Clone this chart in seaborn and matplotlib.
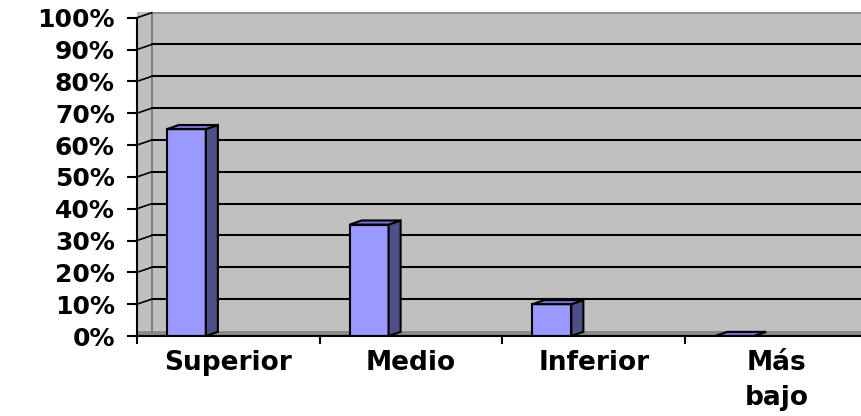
import matplotlib
matplotlib.use("Agg")
import matplotlib.pyplot as plt
from matplotlib.patches import Polygon, Rectangle
import seaborn as sns
import pandas as pd

categories = ["Superior", "Medio", "Inferior", "Más\nbajo"]
values = [65, 35, 10, 0]
yticks = list(range(0, 101, 10))

df = pd.DataFrame({"nivel": categories, "pct": values})

sns.set_style("white")
plt.rcParams["font.family"] = ["DejaVu Sans"]
plt.rcParams["xtick.color"] = "black"
plt.rcParams["ytick.color"] = "black"
plt.rcParams["text.color"] = "black"

fig = plt.figure(figsize=(8.62, 4.16), dpi=100)
ax = fig.add_axes([137 / 862, 80 / 416, 731 / 862, 324 / 416])
ax.set_facecolor("#c0c0c0")

front, side, top = "#9999ff", "#4f4f88", "#7373cc"
dx, dy = 0.066, 1.3          # depth of the fake 3D effect (data units)
wall_x, wall_dy = -0.418, 1.6

sns.barplot(data=df, x="nivel", y="pct", color=front, width=0.213,
            saturation=1, edgecolor="black", linewidth=1.5, ax=ax, zorder=3)

# shift bars to the left inside their slot and add the side / top faces
for p in ax.patches:
    p.set_x(p.get_x() - 0.23)
    x, w, h = p.get_x(), p.get_width(), p.get_height()
    ax.add_patch(Polygon([(x + w, 0), (x + w + dx, dy), (x + w + dx, h + dy), (x + w, h)],
                         closed=True, fc=side, ec="black", lw=1.5, zorder=3))
    ax.add_patch(Polygon([(x, h), (x + dx, h + dy), (x + w + dx, h + dy), (x + w, h)],
                         closed=True, fc=top, ec="black", lw=1.5, zorder=3))

# floor and back wall
ax.add_patch(Rectangle((-0.5, 0), 4.1, 1.5, fc="#8a8a8a", ec="none", zorder=1))
ax.plot([wall_x, wall_x], [1.5, 101.8], color="#808080", lw=1.5, zorder=1)
for v in yticks[1:]:
    ax.plot([wall_x, 3.6], [v + wall_dy, v + wall_dy],
            color="black" if v < 100 else "#909090", lw=1.5, zorder=2)
    ax.plot([-0.5, wall_x], [v, v + wall_dy], color="black", lw=1.2, zorder=2)

ax.set_xlim(-0.5, 3.5)
ax.set_ylim(0, 101.8)
ax.set_yticks(yticks)
ax.set_yticklabels([f"{v}%" for v in yticks])
ax.set_xticks(range(len(categories)))
ax.set_xticklabels(categories, linespacing=1.45)
ax.set_xticks([-0.5, 0.5, 1.5, 2.5, 3.5], minor=True)
ax.set_xlabel("")
ax.set_ylabel("")

ax.tick_params(axis="y", left=True, length=7, width=1.5, pad=9,
               labelsize=18, colors="black")
ax.tick_params(axis="x", which="major", length=0, pad=10, labelsize=19,
               colors="black")
ax.tick_params(axis="x", which="minor", bottom=True, length=6, width=1.5,
               colors="black")
for lab in ax.get_xticklabels() + ax.get_yticklabels():
    lab.set_fontweight("bold")

sns.despine(ax=ax, top=True, right=True)
for side_name in ["left", "bottom"]:
    ax.spines[side_name].set_linewidth(1.5)
    ax.spines[side_name].set_color("black")
    ax.spines[side_name].set_zorder(4)
ax.spines["left"].set_bounds(0, 100)

fig.savefig("out.png", dpi=100)
